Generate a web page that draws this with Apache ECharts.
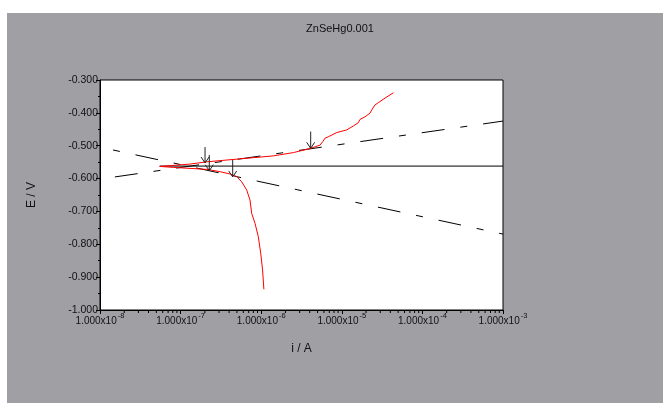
<!DOCTYPE html>
<html>
<head>
<meta charset="utf-8">
<script src="https://cdn.jsdelivr.net/npm/echarts@6/dist/echarts.min.js"></script>
<style>
html,body{margin:0;padding:0;background:#fff;}
#bg{position:absolute;left:7px;top:13px;width:656px;height:390px;background:#a09fa4;}
#c{position:absolute;left:0;top:0;width:663px;height:403px;}
</style>
</head>
<body>
<div id="bg"></div>
<div id="c"></div>
<script>
// ---- data ----
const chartTitle = 'ZnSeHg0.001';
const xTickValues = [1e-8, 1e-7, 1e-6, 1e-5, 1e-4, 1e-3];
const yTickLabels = ['-1.000','-0.900','-0.800','-0.700','-0.600','-0.500','-0.400','-0.300'];

// anodic branch (i / A, E / V)
const iAnodic = [5.5e-8, 8.0e-8, 1.3e-7, 2.11e-7, 5.46e-7, 1.41e-6, 2.50e-6, 4.11e-6, 5.37e-6, 5.79e-6, 6.19e-6, 6.79e-6, 8.64e-6, 1.15e-5, 1.39e-5, 1.60e-5, 1.68e-5, 1.94e-5, 2.24e-5, 2.35e-5, 2.58e-5, 2.84e-5, 3.44e-5, 4.36e-5];
const eAnodic = [-0.563, -0.560, -0.556, -0.549, -0.540, -0.531, -0.521, -0.508, -0.498, -0.488, -0.477, -0.473, -0.460, -0.452, -0.440, -0.430, -0.420, -0.412, -0.401, -0.391, -0.376, -0.369, -0.355, -0.339];

// cathodic branch
const iCathodic = [5.5e-8, 8.11e-8, 2.11e-7, 3.08e-7, 4.10e-7, 4.97e-7, 5.73e-7, 6.61e-7, 7.26e-7, 7.62e-7, 8.38e-7, 9.21e-7, 9.86e-7, 1.04e-6, 1.08e-6];
const eCathodic = [-0.563, -0.566, -0.572, -0.579, -0.586, -0.594, -0.610, -0.635, -0.665, -0.706, -0.736, -0.777, -0.827, -0.878, -0.937];

// corrosion potential line
const eCorr = -0.562;
const iCorrLine = [5.5e-8, 1e-3];

// Tafel fit lines
const iAnodicTafel = [1.53e-8, 1e-3];
const eAnodicTafel = [-0.595, -0.425];
const iCathodicTafel = [1.45e-8, 1e-3];
const eCathodicTafel = [-0.513, -0.769];

// arrows: current, start E, tip E
const iArrows = [2.01e-7, 2.27e-7, 4.43e-7, 4.11e-6];
const eArrowTop = [-0.504, -0.528, -0.5435, -0.457];
const eArrowTip = [-0.5526, -0.576, -0.595, -0.508];

// minor ticks on log axis
const minorMultipliers = [2,3,4,5,6,7,8,9];

// ---- build ----
const pairs = (xs, ys) => xs.map((x, k) => [x, ys[k]]);
const minorTicks = [];
for (let d = 0; d < xTickValues.length - 1; d++) {
  minorMultipliers.forEach(m => minorTicks.push([xTickValues[d] * m, -1.0]));
}
const arrowData = iArrows.map((x, k) => [x, eArrowTop[k], eArrowTip[k]]);

const FONT = '"Liberation Sans Narrow", "Liberation Sans", Arial, sans-serif';
const DASH = [23, 16, 7, 16];

const chart = echarts.init(document.getElementById('c'), null, {renderer: 'canvas'});
chart.setOption({
  animation: false,
  backgroundColor: 'transparent',
  title: {
    text: chartTitle,
    left: 335, top: 18, textAlign: 'center',
    textStyle: {fontFamily: FONT, fontSize: 11, fontWeight: 'normal', color: '#111'}
  },
  grid: {
    left: 100, top: 80, right: 160, bottom: 93,
    show: true, backgroundColor: '#fff', borderColor: '#000', borderWidth: 1
  },
  xAxis: {
    type: 'log', logBase: 10, min: 1e-8, max: 1e-3,
    name: 'i / A', nameLocation: 'middle', nameGap: 33,
    nameTextStyle: {fontFamily: FONT, fontSize: 12, color: '#111'},
    axisLine: {show: true, lineStyle: {color: '#000', width: 1}},
    axisTick: {show: true, length: 4, lineStyle: {color: '#000'}},
    splitLine: {show: false},
    axisLabel: {
      margin: 2, color: '#111',
      formatter: v => '{a|1.000x10}{b|' + Math.round(Math.log10(v)) + '}',
      rich: {
        a: {fontFamily: FONT, fontSize: 10, lineHeight: 14, verticalAlign: 'bottom', color: '#111'},
        b: {fontFamily: FONT, fontSize: 7.5, lineHeight: 14, verticalAlign: 'top', padding: [0, 0, 5, 1], color: '#111'}
      }
    }
  },
  yAxis: {
    type: 'value', min: -1.0, max: -0.3, interval: 0.1,
    name: 'E / V', nameLocation: 'middle', nameGap: 62,
    nameTextStyle: {fontFamily: FONT, fontSize: 12, color: '#111'},
    axisLine: {show: true, lineStyle: {color: '#000', width: 1}},
    axisTick: {show: true, length: 4, lineStyle: {color: '#000'}},
    minorTick: {show: true, splitNumber: 2, length: 2, lineStyle: {color: '#000'}},
    splitLine: {show: false},
    axisLabel: {
      margin: 2, fontFamily: FONT, fontSize: 10.5, color: '#111',
      formatter: v => yTickLabels[Math.round((v + 1.0) * 10)]
    }
  },
  series: [
    {
      type: 'custom', name: 'minorTicks', clip: false, silent: true,
      data: minorTicks,
      renderItem: (params, api) => {
        const p = api.coord([api.value(0), api.value(1)]);
        return {type: 'line', shape: {x1: p[0], y1: p[1], x2: p[0], y2: p[1] + 3}, style: {stroke: '#000', lineWidth: 1}};
      }
    },
    {
      type: 'line', name: 'Ecorr', data: pairs(iCorrLine, [eCorr, eCorr]),
      showSymbol: false, symbol: 'none', lineStyle: {color: '#000', width: 1}, z: 2
    },
    {
      type: 'line', name: 'anodicTafel', data: pairs(iAnodicTafel, eAnodicTafel),
      showSymbol: false, symbol: 'none', lineStyle: {color: '#000', width: 1, type: DASH, dashOffset: 0}, z: 2
    },
    {
      type: 'line', name: 'cathodicTafel', data: pairs(iCathodicTafel, eCathodicTafel),
      showSymbol: false, symbol: 'none', lineStyle: {color: '#000', width: 1, type: DASH, dashOffset: 39}, z: 2
    },
    {
      type: 'line', name: 'anodic', data: pairs(iAnodic, eAnodic),
      showSymbol: false, symbol: 'none', lineStyle: {color: '#ff0000', width: 1}, z: 3
    },
    {
      type: 'line', name: 'cathodic', data: pairs(iCathodic, eCathodic),
      showSymbol: false, symbol: 'none', lineStyle: {color: '#ff0000', width: 1}, z: 3
    },
    {
      type: 'custom', name: 'arrows', silent: true, z: 4,
      encode: {x: 0, y: [1, 2]},
      data: arrowData,
      renderItem: (params, api) => {
        const a = api.coord([api.value(0), api.value(1)]);
        const b = api.coord([api.value(0), api.value(2)]);
        return {
          type: 'group',
          children: [
            {type: 'line', shape: {x1: a[0], y1: a[1], x2: b[0], y2: b[1]}, style: {stroke: '#222', lineWidth: 1}},
            {type: 'polyline', shape: {points: [[b[0] - 4, b[1] - 6], [b[0], b[1]], [b[0] + 4, b[1] - 6]]}, style: {stroke: '#222', lineWidth: 1, fill: null}}
          ]
        };
      }
    }
  ]
});
</script>
</body>
</html>
